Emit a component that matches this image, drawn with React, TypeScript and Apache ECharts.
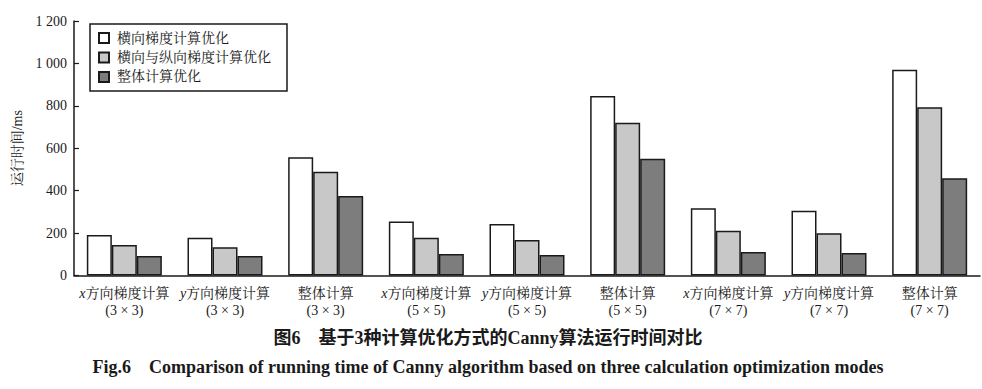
import React, { useEffect, useRef } from "react";
import * as echarts from "echarts";

const categoryNames = [
  "x方向梯度计算", "y方向梯度计算", "整体计算",
  "x方向梯度计算", "y方向梯度计算", "整体计算",
  "x方向梯度计算", "y方向梯度计算", "整体计算",
];
const kernelSizes = ["3 × 3", "3 × 3", "3 × 3", "5 × 5", "5 × 5", "5 × 5", "7 × 7", "7 × 7", "7 × 7"];
const seriesNames = ["横向梯度计算优化", "横向与纵向梯度计算优化", "整体计算优化"];
const horizontalOpt = [191, 178, 557, 255, 243, 846, 317, 305, 970];
const horizVertOpt = [144, 133, 489, 178, 167, 720, 211, 199, 793];
const wholeOpt = [92, 92, 375, 101, 97, 551, 111, 106, 458];
const yTicks = [0, 200, 400, 600, 800, 1000, 1200];
const captionCn = "图6　基于3种计算优化方式的Canny算法运行时间对比";
const captionEn = "Fig.6    Comparison of running time of Canny algorithm based on three calculation optimization modes";

const SERIF = "'Liberation Serif', 'Times New Roman', 'Noto Serif CJK SC', 'Noto Sans CJK SC', serif";
const CJK_BOLD = "'Liberation Serif', 'Noto Sans CJK SC', sans-serif";

export default function App() {
  const ref = useRef<HTMLDivElement>(null);
  useEffect(() => {
    document.body.style.margin = "0";
    if (!ref.current) return;
    const chart = echarts.init(ref.current, undefined, { renderer: "svg" });
    const colors = ["#ffffff", "#c8c8c8", "#7d7d7d"];
    const values = [horizontalOpt, horizVertOpt, wholeOpt];
    chart.setOption({
      animation: false,
      backgroundColor: "#ffffff",
      textStyle: { fontFamily: SERIF, color: "#1a1a1a" },
      grid: { left: 74, right: 2, top: 21, bottom: 113.5, containLabel: false },
      legend: {
        orient: "vertical",
        left: 90,
        top: 24,
        padding: [7, 16, 7, 8],
        itemGap: 5.5,
        itemWidth: 10,
        itemHeight: 10,
        borderColor: "#1a1a1a",
        borderWidth: 1.5,
        borderRadius: 0,
        icon: "rect",
        textStyle: { fontFamily: SERIF, fontSize: 14, color: "#1a1a1a", padding: [0, 0, 0, 3] },
        data: seriesNames,
      },
      xAxis: {
        type: "category",
        data: categoryNames.map((n, i) => n + "|" + kernelSizes[i]),
        axisLine: { lineStyle: { color: "#1a1a1a", width: 1.5 } },
        axisTick: { show: false },
        axisLabel: {
          interval: 0,
          margin: 9,
          lineHeight: 17,
          fontSize: 14,
          color: "#1a1a1a",
          formatter: (v: string) => {
            const [name, k] = v.split("|");
            const first = name[0] === "x" || name[0] === "y"
              ? `{i|${name[0]}}{n|${name.slice(1)}}`
              : `{n|${name}}`;
            return `${first}\n{n|(${k})}`;
          },
          rich: {
            i: { fontStyle: "italic", fontSize: 14, fontFamily: SERIF, color: "#1a1a1a", lineHeight: 17 },
            n: { fontSize: 14, fontFamily: SERIF, color: "#1a1a1a", lineHeight: 17 },
          },
        },
      },
      yAxis: {
        type: "value",
        min: yTicks[0],
        max: yTicks[yTicks.length - 1],
        interval: 200,
        name: "运行时间/ms",
        nameLocation: "middle",
        nameRotate: 90,
        nameGap: 43,
        nameTextStyle: { fontSize: 14, fontFamily: SERIF, color: "#1a1a1a" },
        axisLine: { show: true, lineStyle: { color: "#1a1a1a", width: 1.5 } },
        axisTick: { show: true, inside: true, length: 5, lineStyle: { color: "#1a1a1a", width: 1.2 } },
        splitLine: { show: false },
        axisLabel: {
          fontSize: 14,
          margin: 7,
          color: "#1a1a1a",
          formatter: (v: number) =>
            v >= 1000 ? `${Math.floor(v / 1000)} ${String(v % 1000).padStart(3, "0")}` : String(v),
        },
      },
      series: seriesNames.map((name, si) => ({
        name,
        type: "bar",
        data: values[si],
        barWidth: 25,
        barGap: "0%",
        itemStyle: { color: colors[si], borderColor: "#1a1a1a", borderWidth: 1.5 },
      })),
      graphic: [
        {
          type: "text",
          x: 488,
          y: 338,
          style: {
            text: captionCn,
            fill: "#1a1a1a",
            font: `bold 18px ${CJK_BOLD}`,
            align: "center",
            verticalAlign: "middle",
          },
        },
        {
          type: "text",
          x: 488,
          y: 367,
          style: {
            text: captionEn,
            fill: "#1a1a1a",
            font: `bold 18px ${SERIF}`,
            align: "center",
            verticalAlign: "middle",
          },
        },
      ],
    });
    return () => chart.dispose();
  }, []);
  return <div ref={ref} style={{ width: 982, height: 389 }} />;
}
